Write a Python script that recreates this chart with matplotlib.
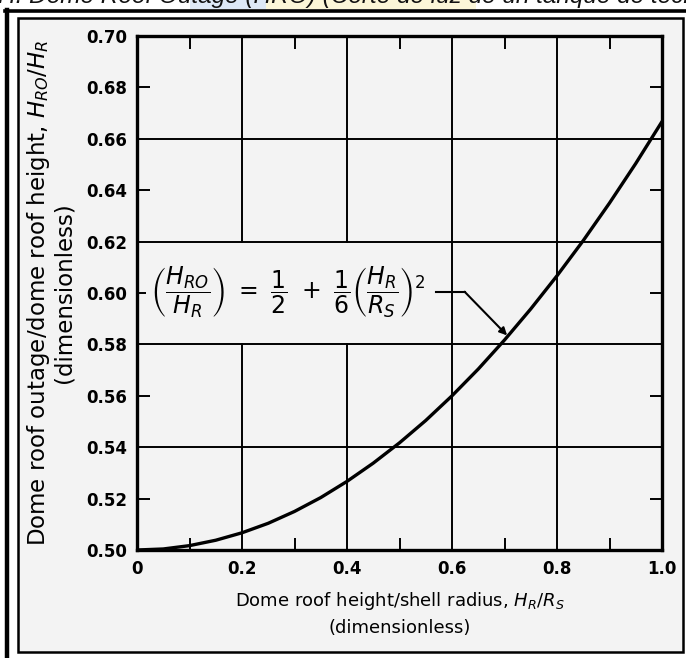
import matplotlib
matplotlib.use('Agg')
import matplotlib.pyplot as plt
from matplotlib.patches import Rectangle
from matplotlib.lines import Line2D

# values: dome roof height / shell radius vs outage ratio
ratio_hr_rs = [0.00, 0.05, 0.10, 0.15, 0.20, 0.25, 0.30, 0.35, 0.40, 0.45, 0.50,
               0.55, 0.60, 0.65, 0.70, 0.75, 0.80, 0.85, 0.90, 0.95, 1.00]
ratio_hro_hr = [0.5000, 0.5004, 0.5017, 0.5038, 0.5067, 0.5104, 0.5150, 0.5204,
                0.5267, 0.5338, 0.5417, 0.5504, 0.5600, 0.5704, 0.5817, 0.5938,
                0.6067, 0.6204, 0.6350, 0.6504, 0.6667]

x_labels = ['0', '0.2', '0.4', '0.6', '0.8', '1.0']
x_major = [0.0, 0.2, 0.4, 0.6, 0.8, 1.0]
x_minor = [0.1, 0.3, 0.5, 0.7, 0.9]
y_major = [0.50, 0.54, 0.58, 0.62, 0.66, 0.70]
y_minor = [0.52, 0.56, 0.60, 0.64, 0.68]

title = 'H. Dome Roof Outage (HRO) (Corte de luz de un tanque de techo de domo)'
formula = (r'$\left(\dfrac{H_{RO}}{H_R}\right)\ =\ \dfrac{1}{2}\ +\ '
           r'\dfrac{1}{6}\left(\dfrac{H_R}{R_S}\right)^2$')

plt.rcParams['font.family'] = ['DejaVu Sans']
plt.rcParams['mathtext.fontset'] = 'dejavusans'

W, H = 686, 658
bg = '#f3f3f3'
fig = plt.figure(figsize=(W / 100, H / 100), dpi=100)
fig.patch.set_facecolor('white')


def px(x0, y0, w, h):
    # pixel box (top-left origin) -> figure fraction
    return [x0 / W, 1 - (y0 + h) / H, w / W, h / H]


# frame around the scanned figure
b = px(18, 18, 665, 634)
fig.patches.append(Rectangle((b[0], b[1]), b[2], b[3], transform=fig.transFigure,
                             facecolor=bg, edgecolor='black', lw=1.8, zorder=-2))
fig.add_artist(Line2D([7 / W, 7 / W], [0, 1 - 10 / H], transform=fig.transFigure,
                      color='black', lw=3.2, zorder=-1))
fig.add_artist(Line2D([5 / W, 1], [1 - 10.5 / H, 1 - 10.5 / H], transform=fig.transFigure,
                      color='black', lw=2.6, zorder=-1))

# highlighted, cut-off caption above the frame
fig.patches.append(Rectangle((190 / W, 1 - 9 / H), 76 / W, 9 / H, transform=fig.transFigure,
                             facecolor='#dde8f6', edgecolor='none', zorder=-3))
fig.patches.append(Rectangle((266 / W, 1 - 9 / H), 210 / W, 9 / H, transform=fig.transFigure,
                             facecolor='#fbf6d8', edgecolor='none', zorder=-3))
fig.text(-2 / W, 1 - 3 / H, title, fontsize=17.6, fontstyle='italic', va='baseline',
         ha='left', color='#111111', family=['Liberation Sans', 'DejaVu Sans'])

ax = fig.add_axes(px(137, 36, 525, 514))
ax.set_zorder(1)
ax.set_facecolor(bg)
ax.plot(ratio_hr_rs, ratio_hro_hr, color='black', lw=2.4, zorder=3,
        solid_capstyle='round', solid_joinstyle='round')

ax.set_xlim(0, 1.0)
ax.set_ylim(0.50, 0.70)
ax.set_xticks(x_major)
ax.set_xticklabels(x_labels)
ax.set_xticks(x_minor, minor=True)
ax.set_yticks(y_major)
ax.set_yticklabels(['%.2f' % v for v in y_major])
ax.set_yticks(y_minor, minor=True)
ax.set_yticklabels(['%.2f' % v for v in y_minor], minor=True)

ax.grid(which='major', color='black', lw=1.4)
ax.tick_params(which='major', axis='x', length=0, pad=7, labelsize=12)
ax.tick_params(which='minor', axis='x', direction='in', length=9, width=1.4,
               top=True, bottom=True)
ax.tick_params(which='major', axis='y', length=0, pad=7, labelsize=12)
ax.tick_params(which='minor', axis='y', direction='in', length=9, width=1.4,
               left=True, right=True, labelsize=12, pad=7)
for lab in ax.get_xticklabels() + ax.get_yticklabels() + ax.get_yticklabels(minor=True):
    lab.set_fontweight('bold')
for s in ax.spines.values():
    s.set_linewidth(2.4)

# formula panel covering the grid
ax.add_patch(Rectangle((0.018, 0.5806), 0.57, 0.0388, facecolor=bg, edgecolor='none',
                       zorder=2.5))
ax.text(0.287, 0.6005, formula, fontsize=17, ha='center', va='center', zorder=4)
ax.plot([0.57, 0.625], [0.6005, 0.6005], color='black', lw=1.5, zorder=4)
ax.annotate('', xy=(0.705, 0.5835), xytext=(0.624, 0.6005),
            arrowprops=dict(arrowstyle='-|>', color='black', lw=1.5,
                            mutation_scale=11, shrinkA=0, shrinkB=0), zorder=4)

ax.set_xlabel('Dome roof height/shell radius, $H_R/R_S$\n(dimensionless)',
              fontsize=13, labelpad=9, linespacing=1.45)
ax.set_ylabel('Dome roof outage/dome roof height, $H_{RO}/H_R$\n(dimensionless)',
              fontsize=16.5, labelpad=8, linespacing=1.0)

fig.savefig('out.png', dpi=100, facecolor='white')
